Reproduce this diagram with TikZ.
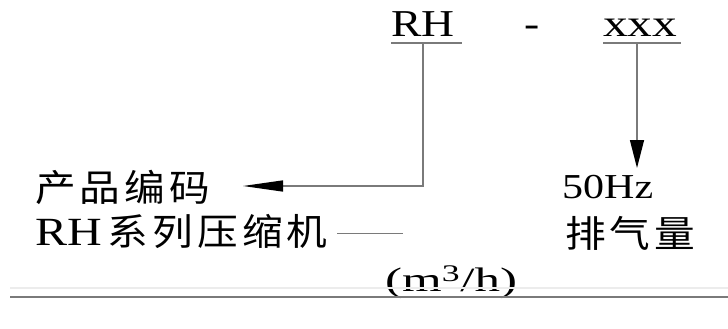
\documentclass[tikz,border=0pt]{standalone}
\usepackage{fontspec}
\usepackage{graphicx}
\usetikzlibrary{arrows.meta}
\setmainfont{Liberation Serif}
\newfontfamily\cjk[LetterSpace=10]{Noto Sans CJK SC}
\newcommand{\sx}[2][1.2]{\scalebox{#1}[1]{#2}}
\definecolor{linegray}{HTML}{7A7A7A}
\definecolor{faintgray}{HTML}{ECECEC}
\begin{document}
\begin{tikzpicture}[x=1pt,y=-1pt,
  txt/.style={inner sep=0pt, anchor=base west, text=black},
  big/.style={font=\fontsize{38}{40}\selectfont},
  mid/.style={font=\fontsize{35}{38}\selectfont},
  cjkstyle/.style={font=\fontsize{37}{40}\selectfont\cjk},
  conn/.style={draw=linegray, line width=1.4pt},
  arrleft/.style={conn, -{Triangle[length=40pt,width=11pt,color=black]}},
  arrdown/.style={conn, -{Triangle[length=28pt,width=14pt,color=black]}}
]
\useasboundingbox (0,0) rectangle (728,329);
% top code
\node[txt,big] (rh) at (391,37) {\sx{RH}};
\node[txt,big] (dash) at (524,37) {\sx{-}};
\node[txt,big] (xxx) at (603,37) {\sx[1.3]{xxx}};
\coordinate (rhL) at (391,43);
\coordinate (rhR) at (462,43);
\coordinate (xxL) at (603,43);
\coordinate (xxR) at (681,43);
\draw[conn] (rhL) -- (rhR);
\draw[conn] (xxL) -- (xxR);
% labels
\node[txt,cjkstyle] (code) at (35,201) {\sx[1.1]{产品编码}};
\node[txt,mid] (hz) at (562,198) {\sx{50Hz}};
\node[txt,big,font=\fontsize{40}{42}\selectfont] (series) at (35,245) {\sx{RH}\hspace{6pt}{\cjk\fontsize{37}{40}\selectfont\sx[1.1]{系列压缩机}}};
\node[txt,cjkstyle] (disp) at (565,247) {\sx[1.1]{排气量}};
\node[txt,font=\fontsize{34}{36}\selectfont] (unit) at (385,291) {\sx[1.5]{(m\textsuperscript{3}/h)}};
% connectors
\coordinate (rhfoot) at (423,43);
\coordinate (corner) at (423,186);
\coordinate (codetip) at (243,186);
\draw[arrleft] (rhfoot) -- (corner) -- (codetip);
\coordinate (xxfoot) at (637,43);
\coordinate (hztip) at (637,168);
\draw[arrdown] (xxfoot) -- (hztip);
% leader after series
\coordinate (lead1) at (337,233);
\coordinate (lead2) at (403,233);
\draw[draw=linegray, line width=0.8pt] (lead1) -- (lead2);
% bottom rules
\coordinate (fa) at (10,288);
\coordinate (fb) at (728,288);
\draw[draw=faintgray, line width=1.5pt] (fa) -- (fb);
\coordinate (ra) at (10,297);
\coordinate (rb) at (728,297);
\draw[draw=linegray, line width=1.6pt] (ra) -- (rb);
\end{tikzpicture}
\end{document}
